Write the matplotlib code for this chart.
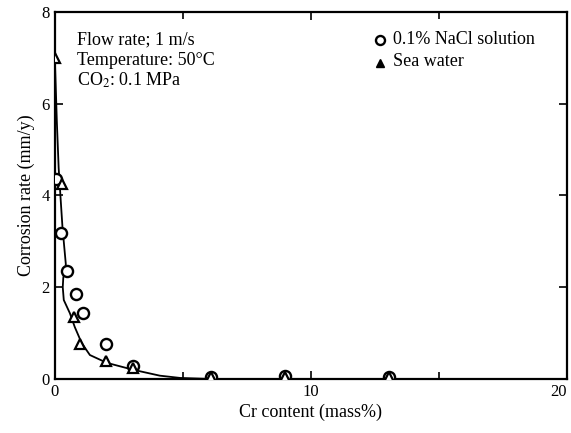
import matplotlib.pyplot as plt
from matplotlib.ticker import MultipleLocator

plt.rcParams['font.family'] = ['Liberation Serif', 'DejaVu Serif']
plt.rcParams['mathtext.fontset'] = 'stix'

# 0.1% NaCl solution (open circles)
nacl_cr = [0.05, 0.23, 0.47, 0.82, 1.1, 2.0, 3.05, 6.1, 9.0, 13.05]
nacl_rate = [4.35, 3.18, 2.35, 1.85, 1.43, 0.76, 0.28, 0.04, 0.06, 0.03]

# Sea water (open triangles)
sea_cr = [0.0, 0.27, 0.76, 1.0, 2.0, 3.05, 6.1, 9.0, 13.05]
sea_rate = [7.0, 4.25, 1.35, 0.76, 0.39, 0.24, 0.04, 0.05, 0.03]

# hand drawn trend line
curve_cr = [0.0, 0.08, 0.15, 0.23, 0.3, 0.43, 0.33, 0.31, 0.35, 0.59, 0.78, 1.05,
            1.37, 2.03, 3.05, 4.1, 4.9, 6.0]
curve_rate = [7.0, 5.6, 4.6, 3.9, 3.3, 2.5, 2.2, 2.0, 1.72, 1.43, 1.13, 0.78,
              0.52, 0.35, 0.2, 0.07, 0.02, 0.0]

fig = plt.figure(figsize=(5.71, 4.33), dpi=100)
ax = fig.add_axes([0.096, 0.125, 0.897, 0.847])

ax.plot(curve_cr, curve_rate, color='black', lw=1.3, zorder=2)
ax.plot(nacl_cr, nacl_rate, 'o', ms=8, mfc='white', mec='black', mew=1.7, zorder=3)
ax.plot(sea_cr, sea_rate, '^', ms=7, mfc='white', mec='black', mew=1.6, zorder=4)

ax.set_xlim(0, 20)
ax.set_ylim(0, 8)
ax.set_xticks([0, 10, 20])
ax.xaxis.set_minor_locator(MultipleLocator(5))
ax.yaxis.set_major_locator(MultipleLocator(2))
ax.tick_params(which='both', direction='in', top=True, right=True, labelsize=12, width=1.2)
ax.tick_params(which='major', length=6)
ax.tick_params(which='minor', length=5)
ax.get_xticklabels()[-1].set_horizontalalignment('right')
for s in ax.spines.values():
    s.set_linewidth(1.6)

ax.set_xlabel('Cr content (mass%)', fontsize=13, labelpad=3)
ax.set_ylabel('Corrosion rate (mm/y)', fontsize=13, labelpad=5)

ax.text(0.043, 0.924, 'Flow rate; 1 m/s', transform=ax.transAxes, fontsize=13, va='center')
ax.text(0.043, 0.869, 'Temperature: 50°C', transform=ax.transAxes, fontsize=13, va='center')
ax.text(0.043, 0.815, r'CO$_2$: 0.1 MPa', transform=ax.transAxes, fontsize=13, va='center')

ax.plot([0.635], [0.924], 'o', ms=6.5, mfc='white', mec='black', mew=1.7, transform=ax.transAxes)
ax.plot([0.635], [0.862], '^', ms=6, color='black', transform=ax.transAxes)
ax.text(0.66, 0.926, '0.1% NaCl solution', transform=ax.transAxes, fontsize=13, va='center')
ax.text(0.66, 0.866, 'Sea water', transform=ax.transAxes, fontsize=13, va='center')

fig.savefig('out.png', dpi=100)
